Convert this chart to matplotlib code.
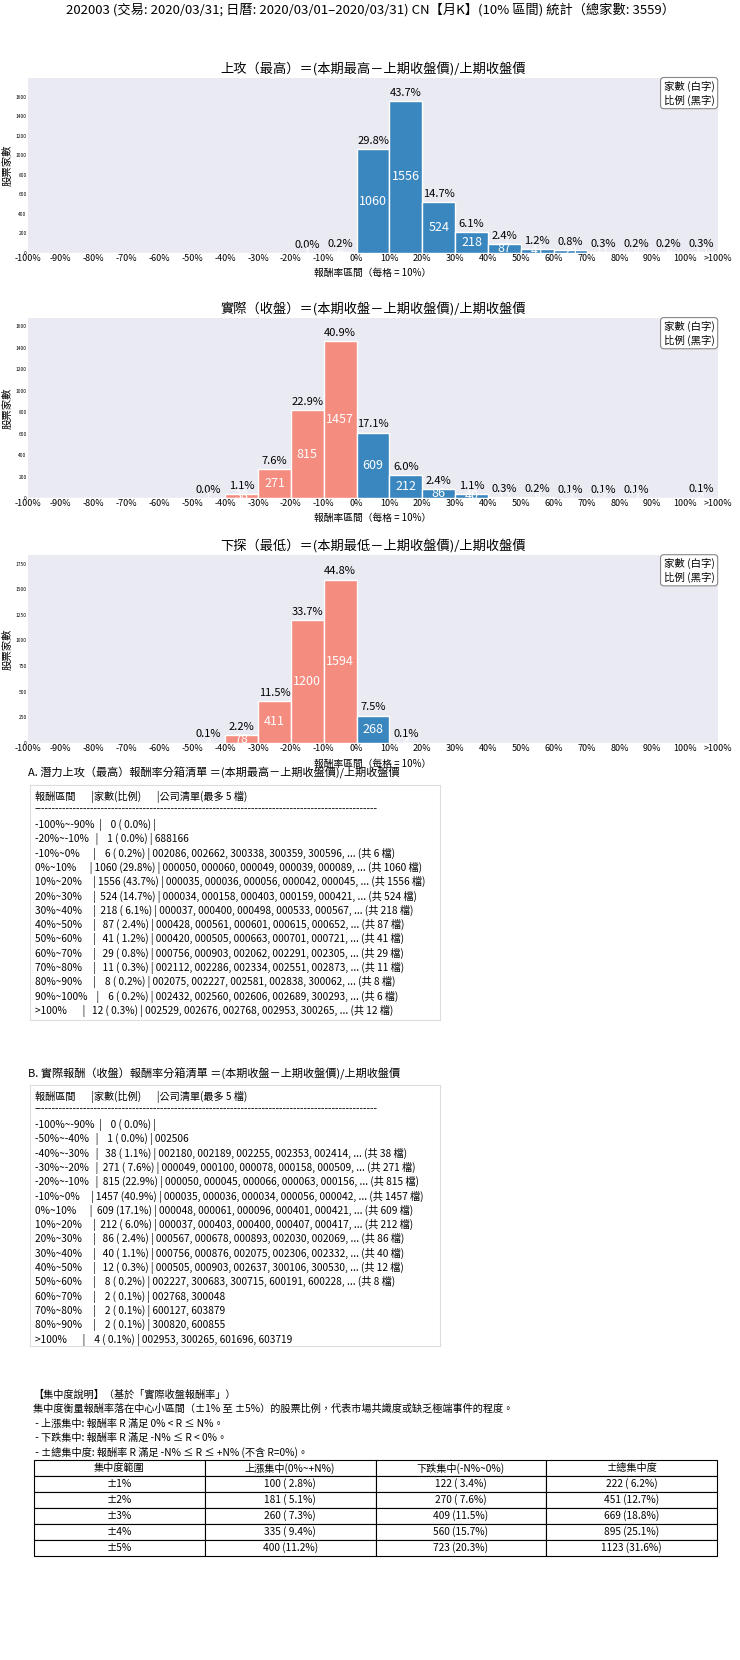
import numpy as np
import matplotlib
matplotlib.use("Agg")
import matplotlib.pyplot as plt

plt.rcParams['font.family'] = ['Noto Sans CJK TC', 'DejaVu Sans']
plt.rcParams['axes.unicode_minus'] = False

TOTAL = 3559
tick_labels = ['-100%', '-90%', '-80%', '-70%', '-60%', '-50%', '-40%', '-30%', '-20%', '-10%', '0%',
               '10%', '20%', '30%', '40%', '50%', '60%', '70%', '80%', '90%', '100%', '>100%']

high_counts = [0, 0, 0, 0, 0, 0, 0, 0, 1, 6, 1060, 1556, 524, 218, 87, 41, 29, 11, 8, 6, 12]
close_counts = [0, 0, 0, 0, 0, 1, 38, 271, 815, 1457, 609, 212, 86, 40, 12, 8, 2, 2, 2, 0, 4]
low_counts = [0, 0, 0, 0, 0, 4, 78, 411, 1200, 1594, 268, 4, 0, 0, 0, 0, 0, 0, 0, 0, 0]

chart_titles = ['上攻（最高）＝(本期最高－上期收盤價)/上期收盤價',
                '實際（收盤）＝(本期收盤－上期收盤價)/上期收盤價',
                '下探（最低）＝(本期最低－上期收盤價)/上期收盤價']

list_a = [
    "報酬區間       |家數(比例)       |公司清單(最多 5 檔)",
    "-" * 98,
    "-100%~-90%  |    0 ( 0.0%) |",
    "-20%~-10%   |    1 ( 0.0%) | 688166",
    "-10%~0%      |    6 ( 0.2%) | 002086, 002662, 300338, 300359, 300596, ... (共 6 檔)",
    "0%~10%      | 1060 (29.8%) | 000050, 000060, 000049, 000039, 000089, ... (共 1060 檔)",
    "10%~20%     | 1556 (43.7%) | 000035, 000036, 000056, 000042, 000045, ... (共 1556 檔)",
    "20%~30%     |  524 (14.7%) | 000034, 000158, 000403, 000159, 000421, ... (共 524 檔)",
    "30%~40%     |  218 ( 6.1%) | 000037, 000400, 000498, 000533, 000567, ... (共 218 檔)",
    "40%~50%     |   87 ( 2.4%) | 000428, 000561, 000601, 000615, 000652, ... (共 87 檔)",
    "50%~60%     |   41 ( 1.2%) | 000420, 000505, 000663, 000701, 000721, ... (共 41 檔)",
    "60%~70%     |   29 ( 0.8%) | 000756, 000903, 002062, 002291, 002305, ... (共 29 檔)",
    "70%~80%     |   11 ( 0.3%) | 002112, 002286, 002334, 002551, 002873, ... (共 11 檔)",
    "80%~90%     |    8 ( 0.2%) | 002075, 002227, 002581, 002838, 300062, ... (共 8 檔)",
    "90%~100%    |    6 ( 0.2%) | 002432, 002560, 002606, 002689, 300293, ... (共 6 檔)",
    ">100%       |   12 ( 0.3%) | 002529, 002676, 002768, 002953, 300265, ... (共 12 檔)",
]
list_b = [
    "報酬區間       |家數(比例)       |公司清單(最多 5 檔)",
    "-" * 98,
    "-100%~-90%  |    0 ( 0.0%) |",
    "-50%~-40%   |    1 ( 0.0%) | 002506",
    "-40%~-30%   |   38 ( 1.1%) | 002180, 002189, 002255, 002353, 002414, ... (共 38 檔)",
    "-30%~-20%   |  271 ( 7.6%) | 000049, 000100, 000078, 000158, 000509, ... (共 271 檔)",
    "-20%~-10%   |  815 (22.9%) | 000050, 000045, 000066, 000063, 000156, ... (共 815 檔)",
    "-10%~0%     | 1457 (40.9%) | 000035, 000036, 000034, 000056, 000042, ... (共 1457 檔)",
    "0%~10%      |  609 (17.1%) | 000048, 000061, 000096, 000401, 000421, ... (共 609 檔)",
    "10%~20%     |  212 ( 6.0%) | 000037, 000403, 000400, 000407, 000417, ... (共 212 檔)",
    "20%~30%     |   86 ( 2.4%) | 000567, 000678, 000893, 002030, 002069, ... (共 86 檔)",
    "30%~40%     |   40 ( 1.1%) | 000756, 000876, 002075, 002306, 002332, ... (共 40 檔)",
    "40%~50%     |   12 ( 0.3%) | 000505, 000903, 002637, 300106, 300530, ... (共 12 檔)",
    "50%~60%     |    8 ( 0.2%) | 002227, 300683, 300715, 600191, 600228, ... (共 8 檔)",
    "60%~70%     |    2 ( 0.1%) | 002768, 300048",
    "70%~80%     |    2 ( 0.1%) | 600127, 603879",
    "80%~90%     |    2 ( 0.1%) | 300820, 600855",
    ">100%       |    4 ( 0.1%) | 002953, 300265, 601696, 603719",
]

conc_header = ['集中度範圍', '上漲集中(0%~+N%)', '下跌集中(-N%~0%)', '±總集中度']
conc_rows = [['±1%', '100 ( 2.8%)', '122 ( 3.4%)', '222 ( 6.2%)'],
             ['±2%', '181 ( 5.1%)', '270 ( 7.6%)', '451 (12.7%)'],
             ['±3%', '260 ( 7.3%)', '409 (11.5%)', '669 (18.8%)'],
             ['±4%', '335 ( 9.4%)', '560 (15.7%)', '895 (25.1%)'],
             ['±5%', '400 (11.2%)', '723 (20.3%)', '1123 (31.6%)']]
conc_notes = ['【集中度說明】（基於「實際收盤報酬率」）',
              '集中度衡量報酬率落在中心小區間（±1% 至 ±5%）的股票比例，代表市場共識度或缺乏極端事件的程度。',
              ' - 上漲集中: 報酬率 R 滿足 0% < R ≤ N%。',
              ' - 下跌集中: 報酬率 R 滿足 -N% ≤ R < 0%。',
              ' - ±總集中度: 報酬率 R 滿足 -N% ≤ R ≤ +N% (不含 R=0%)。']

W, H = 740, 1660
fig = plt.figure(figsize=(W / 100, H / 100), dpi=100)
fig.text(0.5, 1 - 10 / H, '202003 (交易: 2020/03/31; 日曆: 2020/03/01–2020/03/31) CN【月K】(10% 區間) 統計（總家數: 3559）',
         ha='center', va='center', fontsize=9.5)

BLUE = '#3a86bf'
RED = '#f48c80'
panels = [(high_counts, 78, 253, np.arange(0, 1601, 200)),
          (close_counts, 318, 498, np.arange(0, 1601, 200)),
          (low_counts, 555, 743, np.arange(0, 1751, 250))]

for (counts, top, bot, yt), title in zip(panels, chart_titles):
    ax = fig.add_axes([28 / W, 1 - bot / H, 690 / W, (bot - top) / H])
    ax.set_facecolor('#eaeaf2')
    for s in ax.spines.values():
        s.set_visible(False)
    x = np.arange(len(counts)) + 0.5
    colors = [RED if i < 10 else BLUE for i in range(len(counts))]
    bars = ax.bar(x, counts, width=1.0, color=colors, edgecolor='white', linewidth=1)
    mx = max(counts)
    ax.set_ylim(0, mx * 1.15)
    ax.set_xlim(0, len(counts))
    ax.set_xticks(np.arange(len(tick_labels)))
    ax.set_xticklabels(tick_labels, fontsize=6.5)
    ax.set_yticks(yt)
    ax.set_yticklabels([str(v) for v in yt], fontsize=3.5)
    ax.tick_params(length=0, pad=1)
    ax.set_ylabel('股票家數', fontsize=7.5, labelpad=2)
    ax.set_xlabel('報酬率區間（每格 = 10%）', fontsize=7)
    ax.xaxis.set_label_coords(0.5, -0.09, transform=None) if False else ax.xaxis.set_label_coords(0.5, -0.085)
    ax.set_title(title, fontsize=9.5, pad=3)
    for b, c in zip(bars, counts):
        if c == 0:
            continue
        ax.text(b.get_x() + 0.5, c + mx * 0.02, f'{c / TOTAL * 100:.1f}%', ha='center', va='bottom', fontsize=8)
        ax.text(b.get_x() + 0.5, c / 2, str(c), ha='center', va='center', fontsize=9, color='white')
    ax.text(0.995, 0.985, '家數 (白字)\n比例 (黑字)', transform=ax.transAxes, ha='right', va='top', fontsize=7.5,
            bbox=dict(boxstyle='round,pad=0.3', fc='white', ec='#888888', lw=0.8), linespacing=1.3)


def list_box(title, lines, y_title, y0, y1):
    fig.text(28 / W, 1 - y_title / H, title, fontsize=8, va='center')
    bax = fig.add_axes([30 / W, 1 - y1 / H, 410 / W, (y1 - y0) / H])
    bax.set_xticks([]); bax.set_yticks([])
    for s in bax.spines.values():
        s.set_color('#dddddd')
    for k, ln in enumerate(lines):
        off = 12 if k == 0 else (24 if k == 1 else 40 + 14.3 * (k - 2))
        bax.text(0.012, 1 - off / (y1 - y0), ln, fontsize=7.3, va='center', transform=bax.transAxes)


list_box('A. 潛力上攻（最高）報酬率分箱清單 ＝(本期最高－上期收盤價)/上期收盤價', list_a, 773, 785, 1020)
list_box('B. 實際報酬（收盤）報酬率分箱清單 ＝(本期收盤－上期收盤價)/上期收盤價', list_b, 1074, 1085, 1346)

for k, ln in enumerate(conc_notes):
    fig.text(33 / W, 1 - (1395 + k * 14.3) / H, ln, fontsize=7.3, va='center')

tax = fig.add_axes([34 / W, 1 - 1556 / H, 683 / W, 96 / H])
tax.axis('off')
tbl = tax.table(cellText=conc_rows, colLabels=conc_header, cellLoc='center', loc='center', bbox=[0, 0, 1, 1])
tbl.auto_set_font_size(False)
tbl.set_fontsize(7.3)
for cell in tbl.get_celld().values():
    cell.set_linewidth(0.8)

fig.savefig('out.png', dpi=100)
